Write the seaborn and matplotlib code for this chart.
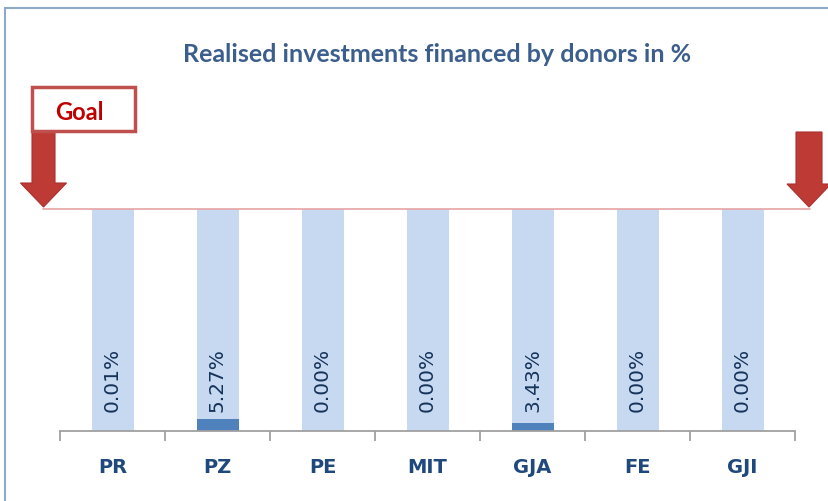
import matplotlib
matplotlib.use("Agg")
import matplotlib.pyplot as plt
import seaborn as sns
import pandas as pd
from matplotlib.patches import Polygon, Rectangle
from matplotlib.lines import Line2D

categories = ["PR", "PZ", "PE", "MIT", "GJA", "FE", "GJI"]
values = [0.01, 5.27, 0.00, 0.00, 3.43, 0.00, 0.00]
goal = [100, 100, 100, 100, 100, 100, 100]
value_labels = ["0.01%", "5.27%", "0.00%", "0.00%", "3.43%", "0.00%", "0.00%"]

sns.set_theme(style="white")
plt.rcParams['font.family'] = ['Lato', 'DejaVu Sans']

W, H = 829, 502
fig = plt.figure(figsize=(W / 100, H / 100), dpi=100)
fig.patch.set_facecolor("white")

def fx(x):
    return x / W

def fy(y):
    return 1 - y / H

ax = fig.add_axes([fx(60), fy(432), (795 - 60) / W, (432 - 210) / H])
df = pd.DataFrame({"cat": categories, "val": values, "goal": goal})

sns.barplot(data=df, x="cat", y="goal", color="#C6D9F0", width=0.4,
            saturation=1, ax=ax, zorder=1, linewidth=0)
sns.barplot(data=df, x="cat", y="val", color="#4F81BD", width=0.4,
            saturation=1, ax=ax, zorder=2, linewidth=0)

ax.set_xlim(-0.5, len(categories) - 0.5)
ax.set_ylim(0, 100)
ax.set_xlabel("")
ax.set_ylabel("")
ax.set_yticks([])
for s in ["top", "left", "right"]:
    ax.spines[s].set_visible(False)
ax.spines["bottom"].set_color("#A0A0A0")
ax.spines["bottom"].set_linewidth(1.3)

ax.set_xticks(range(len(categories)))
ax.set_xticklabels(categories, fontsize=14, fontweight="bold", color="#1F497D",
                   family=["DejaVu Sans"])
ax.tick_params(axis="x", which="major", length=0, pad=19)
ax.set_xticks([i - 0.5 for i in range(len(categories) + 1)], minor=True)
ax.tick_params(axis="x", which="minor", length=7, width=1.3, color="#A0A0A0",
               bottom=True)

for i, lab in enumerate(value_labels):
    ax.text(i, 23.5, lab, rotation=90, ha="center", va="center",
            fontsize=14.5, color="#14325A", zorder=3, family=["DejaVu Sans"])

# goal line
fig.add_artist(Line2D([fx(43), fx(810)], [fy(210), fy(210)],
                      transform=fig.transFigure, color="#E6A3A3", lw=1.2))

# outer frame
fig.add_artist(Rectangle((fx(5), fy(600)), fx(900), (600 - 9) / H,
                         transform=fig.transFigure, fill=False,
                         edgecolor="#8EA9C8", lw=1.5))

# title
fig.text(fx(437), fy(55), "Realised investments financed by donors in %",
         ha="center", va="center", fontsize=18, fontweight="bold",
         color="#3B5E8C")

def arrow(cx, sw, hw, top, neck, tip, color="#BE3A34"):
    pts = [(cx - sw / 2, top), (cx + sw / 2, top), (cx + sw / 2, neck),
           (cx + hw / 2, neck), (cx, tip), (cx - hw / 2, neck),
           (cx - sw / 2, neck)]
    fig.add_artist(Polygon([(fx(x), fy(y)) for x, y in pts], closed=True,
                           transform=fig.transFigure, facecolor=color,
                           edgecolor="#A93030", lw=0.8))

arrow(43.5, 23, 46, 131, 184, 208)
arrow(809, 26, 44, 133, 185, 208)

# goal box
fig.add_artist(Rectangle((fx(32), fy(132)), (135 - 32) / W, (132 - 88) / H,
                         transform=fig.transFigure, facecolor="white",
                         edgecolor="#C0504D", lw=2.5))
fig.text(fx(79), fy(112), "Goal", ha="center", va="center", fontsize=17,
         fontweight="bold", color="#C00000")

fig.savefig("out.png", dpi=100)
